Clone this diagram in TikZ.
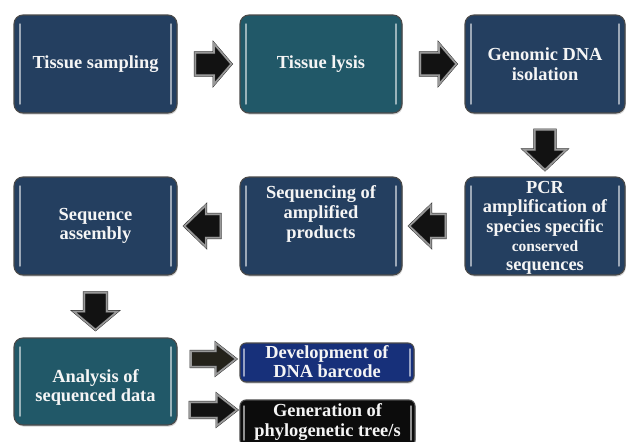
\documentclass[tikz,border=0pt]{standalone}
\usepackage{fontspec}
\setmainfont{Liberation Serif}
\usetikzlibrary{shapes.arrows,shadows,calc}

\definecolor{navy}{HTML}{243F60}
\definecolor{tealbox}{HTML}{215868}
\definecolor{royal}{HTML}{17307A}
\definecolor{inkbox}{HTML}{0C0C0C}
\definecolor{rim}{HTML}{4A4A4A}
\definecolor{olivearrow}{HTML}{24221A}

\tikzset{
  % light vertical glints just inside the left and right edges of a box
  shine/.style={path picture={
    \draw[white, opacity=0.55, line width=1.5pt, line cap=round]
      ([xshift=#1, yshift=-1.5*#1]path picture bounding box.north west) --
      ([xshift=#1, yshift=1.5*#1]path picture bounding box.south west)
      ([xshift=-#1, yshift=-1.5*#1]path picture bounding box.north east) --
      ([xshift=-#1, yshift=1.5*#1]path picture bounding box.south east);
  }},
  stagebox/.style={draw=rim, line width=1.1pt, rounded corners=9pt,
    inner sep=0pt, outer sep=0pt,
    drop shadow={shadow xshift=0.8pt, shadow yshift=-1.6pt, opacity=0.35},
    shine=6pt},
  smallbox/.style={stagebox, rounded corners=6pt, shine=4pt},
  boxtext/.style={text=white!96!black, align=center, inner sep=0pt,
    font=\fontsize{18.4}{19.6}\selectfont\bfseries},
  blockarrow/.style={single arrow, draw=black!85, double=black!40,
    double distance=1.7pt, line width=0.45pt, fill=black!93,
    inner xsep=0pt, minimum width=0pt},
}

\begin{document}
\begin{tikzpicture}[x=1pt, y=-1pt]
  \useasboundingbox (0,0) rectangle (627,442);
  \clip (0,0) rectangle (627,442);

  % process boxes
  \node[stagebox, fill=navy,    minimum width=163pt, minimum height=98pt] (b1) at (95.5,64) {};
  \node[stagebox, fill=tealbox, minimum width=162pt, minimum height=98pt] (b2) at (321,64) {};
  \node[stagebox, fill=navy,    minimum width=160pt, minimum height=98pt] (b3) at (545,64) {};
  \node[stagebox, fill=navy,    minimum width=163pt, minimum height=98pt] (b4) at (95.5,226) {};
  \node[stagebox, fill=navy,    minimum width=162pt, minimum height=98pt] (b5) at (321,226) {};
  \node[stagebox, fill=navy,    minimum width=160pt, minimum height=98pt] (b6) at (545,226) {};
  \node[stagebox, fill=tealbox, minimum width=163pt, minimum height=87pt] (b7) at (95.5,381.5) {};
  \node[smallbox, fill=royal,   minimum width=174pt, minimum height=39pt] (b8) at (327,362.5) {};
  \node[smallbox, fill=inkbox,  minimum width=175pt, minimum height=46pt] (b9) at (327.5,423) {};

  % box labels
  \node[boxtext] (t1) at (b1.center) {Tissue sampling};
  \node[boxtext] (t2) at (b2.center) {Tissue lysis};
  \node[boxtext] (t3) at (b3.center) {Genomic DNA\\isolation};
  \node[boxtext] (t4) at (b4.center) {Sequence\\assembly};
  \node[boxtext] (t5) at ([yshift=12pt]b5.center) {Sequencing of\\amplified\\products};
  \node[boxtext, font=\fontsize{18.4}{19.2}\selectfont\bfseries] (t6) at ([yshift=-2pt]b6.center)
    {PCR\\amplification of\\species specific\\{\fontsize{15.5}{19.2}\selectfont conserved}\\sequences};
  \node[boxtext] (t7) at ([yshift=-6pt]b7.center) {Analysis of\\sequenced data};
  \node[boxtext] (t8) at ([yshift=1pt]b8.center) {Development of\\DNA barcode};
  \node[boxtext] (t9) at ([yshift=1pt]b9.center) {Generation of\\phylogenetic tree/s};

  % block arrows between the stages
  \node[blockarrow, minimum height=36pt, inner ysep=11pt,
        single arrow head extend=9pt, single arrow tip angle=99]
        (a1) at ($(b1.east)!0.5!(b2.west)$) {};
  \node[blockarrow, minimum height=36pt, inner ysep=11pt,
        single arrow head extend=9pt, single arrow tip angle=99]
        (a2) at ($(b2.east)!0.5!(b3.west)$) {};
  \node[blockarrow, rotate=-90, minimum height=40pt, inner ysep=10pt,
        single arrow head extend=11pt, single arrow tip angle=93]
        (a3) at ($(b3.south)!0.5!(b6.north)$) {};
  \node[blockarrow, rotate=180, minimum height=36pt, inner ysep=11.5pt,
        single arrow head extend=9pt, single arrow tip angle=88]
        (a4) at ($(b6.west)!0.5!(b5.east)$) {};
  \node[blockarrow, rotate=180, minimum height=36pt, inner ysep=11.5pt,
        single arrow head extend=9pt, single arrow tip angle=88]
        (a5) at ($(b5.west)!0.5!(b4.east)$) {};
  \node[blockarrow, rotate=-90, minimum height=37pt, inner ysep=11pt,
        single arrow head extend=10.5pt, single arrow tip angle=100]
        (a6) at ($(b4.south)!0.5!(b7.north)$) {};
  \node[blockarrow, fill=olivearrow, minimum height=45pt, inner ysep=7.5pt,
        single arrow head extend=8pt, single arrow tip angle=76]
        (a7) at ([yshift=3.5pt]$(b7.east |- b8.west)!0.5!(b8.west)$) {};
  \node[blockarrow, minimum height=47pt, inner ysep=7.5pt,
        single arrow head extend=8pt, single arrow tip angle=76]
        (a8) at ([yshift=13pt]$(b7.east |- b9.west)!0.5!(b9.west)$) {};
\end{tikzpicture}
\end{document}
